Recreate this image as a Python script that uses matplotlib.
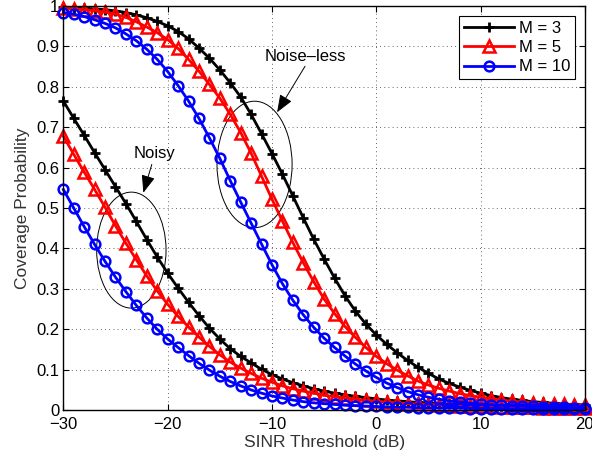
import numpy as np
import matplotlib
matplotlib.use('Agg')
import matplotlib.pyplot as plt
from matplotlib.patches import Ellipse

plt.rcParams['font.family'] = ['Liberation Sans', 'DejaVu Sans']
plt.rcParams['font.size'] = 12

# SINR threshold (dB), one point per dB
sinr_db = np.arange(-30, 21)

# noise-less coverage probability
noiseless_m3 = [0.997, 0.996, 0.995, 0.993, 0.991, 0.988, 0.984, 0.978, 0.971, 0.962,
                0.951, 0.937, 0.919, 0.896, 0.871, 0.842, 0.810, 0.775, 0.732, 0.684,
                0.635, 0.584, 0.530, 0.476, 0.423, 0.374, 0.327, 0.283, 0.245, 0.213,
                0.186, 0.163, 0.142, 0.123, 0.106, 0.091, 0.077, 0.066, 0.057, 0.049,
                0.042, 0.036, 0.031, 0.027, 0.024, 0.021, 0.019, 0.017, 0.015, 0.014,
                0.013]
noiseless_m5 = [0.995, 0.993, 0.991, 0.988, 0.985, 0.980, 0.972, 0.961, 0.948, 0.934,
                0.917, 0.895, 0.868, 0.839, 0.806, 0.772, 0.732, 0.687, 0.636, 0.579,
                0.522, 0.468, 0.415, 0.365, 0.318, 0.275, 0.239, 0.207, 0.180, 0.155,
                0.133, 0.115, 0.099, 0.085, 0.072, 0.062, 0.054, 0.047, 0.041, 0.036,
                0.032, 0.028, 0.025, 0.022, 0.020, 0.018, 0.016, 0.015, 0.014, 0.013,
                0.012]
noiseless_m10 = [0.984, 0.980, 0.974, 0.966, 0.957, 0.946, 0.931, 0.914, 0.893, 0.868,
                 0.838, 0.803, 0.765, 0.722, 0.674, 0.623, 0.568, 0.515, 0.463, 0.411,
                 0.360, 0.313, 0.272, 0.236, 0.205, 0.178, 0.155, 0.134, 0.114, 0.097,
                 0.081, 0.067, 0.056, 0.046, 0.038, 0.032, 0.027, 0.023, 0.020, 0.017,
                 0.015, 0.013, 0.012, 0.011, 0.010, 0.009, 0.008, 0.007, 0.007, 0.006,
                 0.006]

# noisy coverage probability
noisy_m3 = [0.765, 0.722, 0.680, 0.637, 0.595, 0.553, 0.511, 0.467, 0.422, 0.379,
            0.339, 0.302, 0.267, 0.234, 0.203, 0.176, 0.152, 0.133, 0.117, 0.101,
            0.088, 0.077, 0.068, 0.060, 0.053, 0.047, 0.042, 0.038, 0.034, 0.031,
            0.028, 0.025, 0.023, 0.021, 0.019, 0.017, 0.016, 0.015, 0.014, 0.013,
            0.012, 0.011, 0.010, 0.009, 0.009, 0.008, 0.007, 0.007, 0.006, 0.006,
            0.005]
noisy_m5 = [0.678, 0.633, 0.589, 0.546, 0.502, 0.456, 0.413, 0.372, 0.332, 0.295,
            0.262, 0.232, 0.206, 0.181, 0.158, 0.137, 0.119, 0.104, 0.091, 0.079,
            0.069, 0.060, 0.053, 0.047, 0.042, 0.037, 0.033, 0.030, 0.027, 0.024,
            0.022, 0.020, 0.018, 0.016, 0.015, 0.014, 0.013, 0.012, 0.011, 0.010,
            0.009, 0.009, 0.008, 0.008, 0.007, 0.007, 0.006, 0.006, 0.006, 0.005,
            0.005]
noisy_m10 = [0.546, 0.500, 0.454, 0.410, 0.368, 0.329, 0.293, 0.259, 0.228, 0.200,
             0.176, 0.155, 0.135, 0.116, 0.099, 0.084, 0.071, 0.060, 0.050, 0.042,
             0.035, 0.030, 0.025, 0.021, 0.018, 0.016, 0.014, 0.012, 0.011, 0.010,
             0.009, 0.008, 0.007, 0.007, 0.006, 0.006, 0.005, 0.005, 0.005, 0.004,
             0.004, 0.004, 0.004, 0.003, 0.003, 0.003, 0.003, 0.003, 0.003, 0.003,
             0.003]

labels = ['M = 3', 'M = 5', 'M = 10']
styles = [dict(color='k', marker='+', ms=7, mew=2.0),
          dict(color='#ff0000', marker='^', ms=8, mew=1.8, mfc='none'),
          dict(color='#0000ff', marker='o', ms=7, mew=1.8, mfc='none')]
series = [(noiseless_m3, noisy_m3), (noiseless_m5, noisy_m5), (noiseless_m10, noisy_m10)]

fig = plt.figure(figsize=(5.92, 4.65), dpi=100)
ax = fig.add_axes([0.107, 0.118, 0.881, 0.869])

for lab, st, (nl, ny) in zip(labels, styles, series):
    ax.plot(sinr_db, nl, lw=2.0, label=lab, clip_on=False, **st)
    ax.plot(sinr_db, ny, lw=2.0, clip_on=False, **st)

# ellipses grouping the curves
ax.add_patch(Ellipse((-11.67, 0.608), 7.2, 0.313, fill=False, ec='k', lw=0.7))
ax.add_patch(Ellipse((-23.48, 0.396), 6.65, 0.287, fill=False, ec='k', lw=0.7))

arrow_kw = dict(arrowstyle='-|>,head_length=0.9,head_width=0.35', color='k', lw=0.7,
                shrinkA=0, shrinkB=0)
ax.annotate('', xy=(-9.51, 0.737), xytext=(-6.83, 0.851), arrowprops=arrow_kw)
ax.annotate('', xy=(-22.33, 0.538), xytext=(-21.52, 0.608), arrowprops=arrow_kw)
ax.text(-6.83, 0.876, 'Noise\u2013less', ha='center', va='center', fontsize=12)
ax.text(-21.3, 0.635, 'Noisy', ha='center', va='center', fontsize=12)

ax.set(xlim=(-30, 20), ylim=(0, 1),
       xticks=np.arange(-30, 21, 10), yticks=np.arange(0, 1.01, 0.1))
ax.set_yticklabels(['0', '0.1', '0.2', '0.3', '0.4', '0.5', '0.6', '0.7', '0.8', '0.9', '1'])
ax.set_xticklabels(['\u221230', '\u221220', '\u221210', '0', '10', '20'])
ax.tick_params(direction='in', top=True, right=True, length=4, width=0.8,
               labelsize=12)
ax.tick_params(axis='x', pad=5)
ax.tick_params(axis='y', pad=3)
ax.grid(True, linestyle=(0, (1, 4)), color='k', lw=0.6, alpha=0.8)
for s in ax.spines.values():
    s.set_linewidth(1.0)
ax.set_xlabel('SINR Threshold (dB)', color='#333333', fontsize=12.5, labelpad=2)
ax.set_ylabel('Coverage Probability', color='#333333', fontsize=12.5, labelpad=4)

leg = ax.legend(loc='upper right', fancybox=False, edgecolor='k', framealpha=1,
                handlelength=3.0, borderpad=0.3, labelspacing=0.25, handletextpad=0.3,
                fontsize=12, borderaxespad=0.6)
leg.get_frame().set_linewidth(0.8)

fig.savefig('out.png', dpi=100)
